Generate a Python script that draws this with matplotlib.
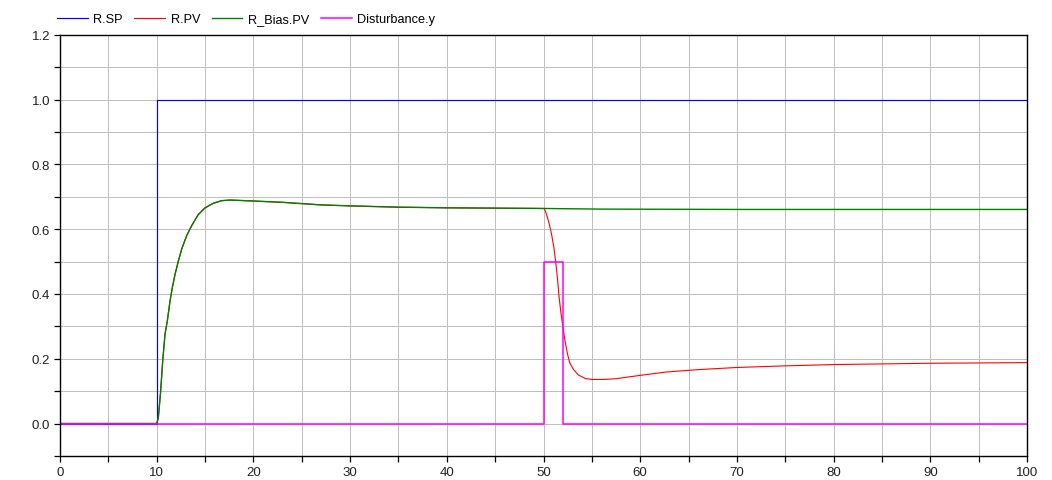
import matplotlib
matplotlib.use("Agg")
import matplotlib.pyplot as plt
from matplotlib.ticker import MultipleLocator, FormatStrFormatter

# --- data ---
sp_t = [0, 10, 10, 100]
sp_y = [0, 0, 1.0, 1.0]

bias_t = [0, 10.0, 10.17, 10.41, 10.62, 10.86, 11.1, 11.38, 11.62, 11.9, 12.24, 12.59,
          13.1, 13.62, 14.3, 15.0, 15.86, 16.7, 17.6, 20.0, 23.0, 27.0, 30.0, 35.0,
          40.0, 45.0, 50.0, 56.0, 70.0, 100.0]
bias_y = [0, 0.0, 0.018, 0.10, 0.193, 0.276, 0.317, 0.379, 0.42, 0.461, 0.502, 0.539,
          0.58, 0.611, 0.645, 0.666, 0.680, 0.688, 0.690, 0.687, 0.683, 0.675, 0.672, 0.668,
          0.666, 0.665, 0.664, 0.662, 0.661, 0.661]

pv_t = [0, 10.0, 10.17, 10.41, 10.62, 10.86, 11.1, 11.38, 11.62, 11.9, 12.24, 12.59,
        13.1, 13.62, 14.3, 15.0, 15.86, 16.7, 17.6, 20.0, 23.0, 27.0, 30.0, 35.0,
        40.0, 45.0, 50.0,
        50.1, 50.3, 50.55, 50.83, 51.07, 51.27, 51.45, 51.6, 51.82, 52.0, 52.2, 52.45,
        52.7, 53.1, 53.6, 54.3, 55.0, 56.2, 57.4, 60.0, 62.7, 65.8, 70.0, 75.0, 80.0,
        90.0, 100.0]
pv_y = [0, 0.0, 0.018, 0.10, 0.193, 0.276, 0.317, 0.379, 0.42, 0.461, 0.502, 0.539,
        0.58, 0.611, 0.645, 0.666, 0.680, 0.688, 0.690, 0.687, 0.683, 0.675, 0.672, 0.668,
        0.666, 0.665, 0.664,
        0.662, 0.647, 0.621, 0.585, 0.544, 0.497, 0.446, 0.394, 0.337, 0.301, 0.26, 0.219,
        0.188, 0.167, 0.150, 0.139, 0.136, 0.136, 0.138, 0.1486, 0.159, 0.166, 0.173, 0.178,
        0.182, 0.186, 0.188]

dist_t = [0, 50, 50, 52, 52, 100]
dist_y = [0, 0, 0.5, 0.5, 0, 0]

plt.rcParams['font.family'] = ['Liberation Sans', 'DejaVu Sans']

W, H = 1052, 481
fig = plt.figure(figsize=(W/100, H/100), dpi=100)
ax_h = 421.0
ax_b = 56.5 - ax_h * (0.1 / 1.3)
ax = fig.add_axes([60/W, ax_b/H, 967/W, ax_h/H])

ax.plot(sp_t, sp_y, color='#0000ff', lw=0.85, label='R.SP')
ax.plot(pv_t, pv_y, color='#ff0000', lw=0.8, label='R.PV')
ax.plot(bias_t, bias_y, color='#008000', lw=1.0, label='R_Bias.PV')
ax.plot(dist_t, dist_y, color='#ff00ff', lw=1.1, label='Disturbance.y')

ax.set_xlim(0, 100)
ax.set_ylim(-0.1, 1.2)
ax.xaxis.set_major_locator(MultipleLocator(10))
ax.xaxis.set_minor_locator(MultipleLocator(5))
ax.yaxis.set_major_locator(MultipleLocator(0.2))
ax.yaxis.set_minor_locator(MultipleLocator(0.1))
ax.yaxis.set_major_formatter(FormatStrFormatter('%.1f'))
ax.grid(True, which='both', color='#c0c0c0', lw=0.72, antialiased=False)
ax.set_axisbelow(True)
ax.tick_params(which='both', direction='out', length=4, width=0.9, color='black',
               labelsize=9.5, labelcolor='#222222', pad=3)
for s in ax.spines.values():
    s.set_linewidth(1.0)
    s.set_color('black')

fig.legend(loc='center left', bbox_to_anchor=(57/W, 1-20/H), ncol=4, frameon=False,
           fontsize=9.2, handlelength=2.4, handletextpad=0.45, columnspacing=0.9,
           borderaxespad=0, borderpad=0)

fig.savefig('out.png', dpi=100)
